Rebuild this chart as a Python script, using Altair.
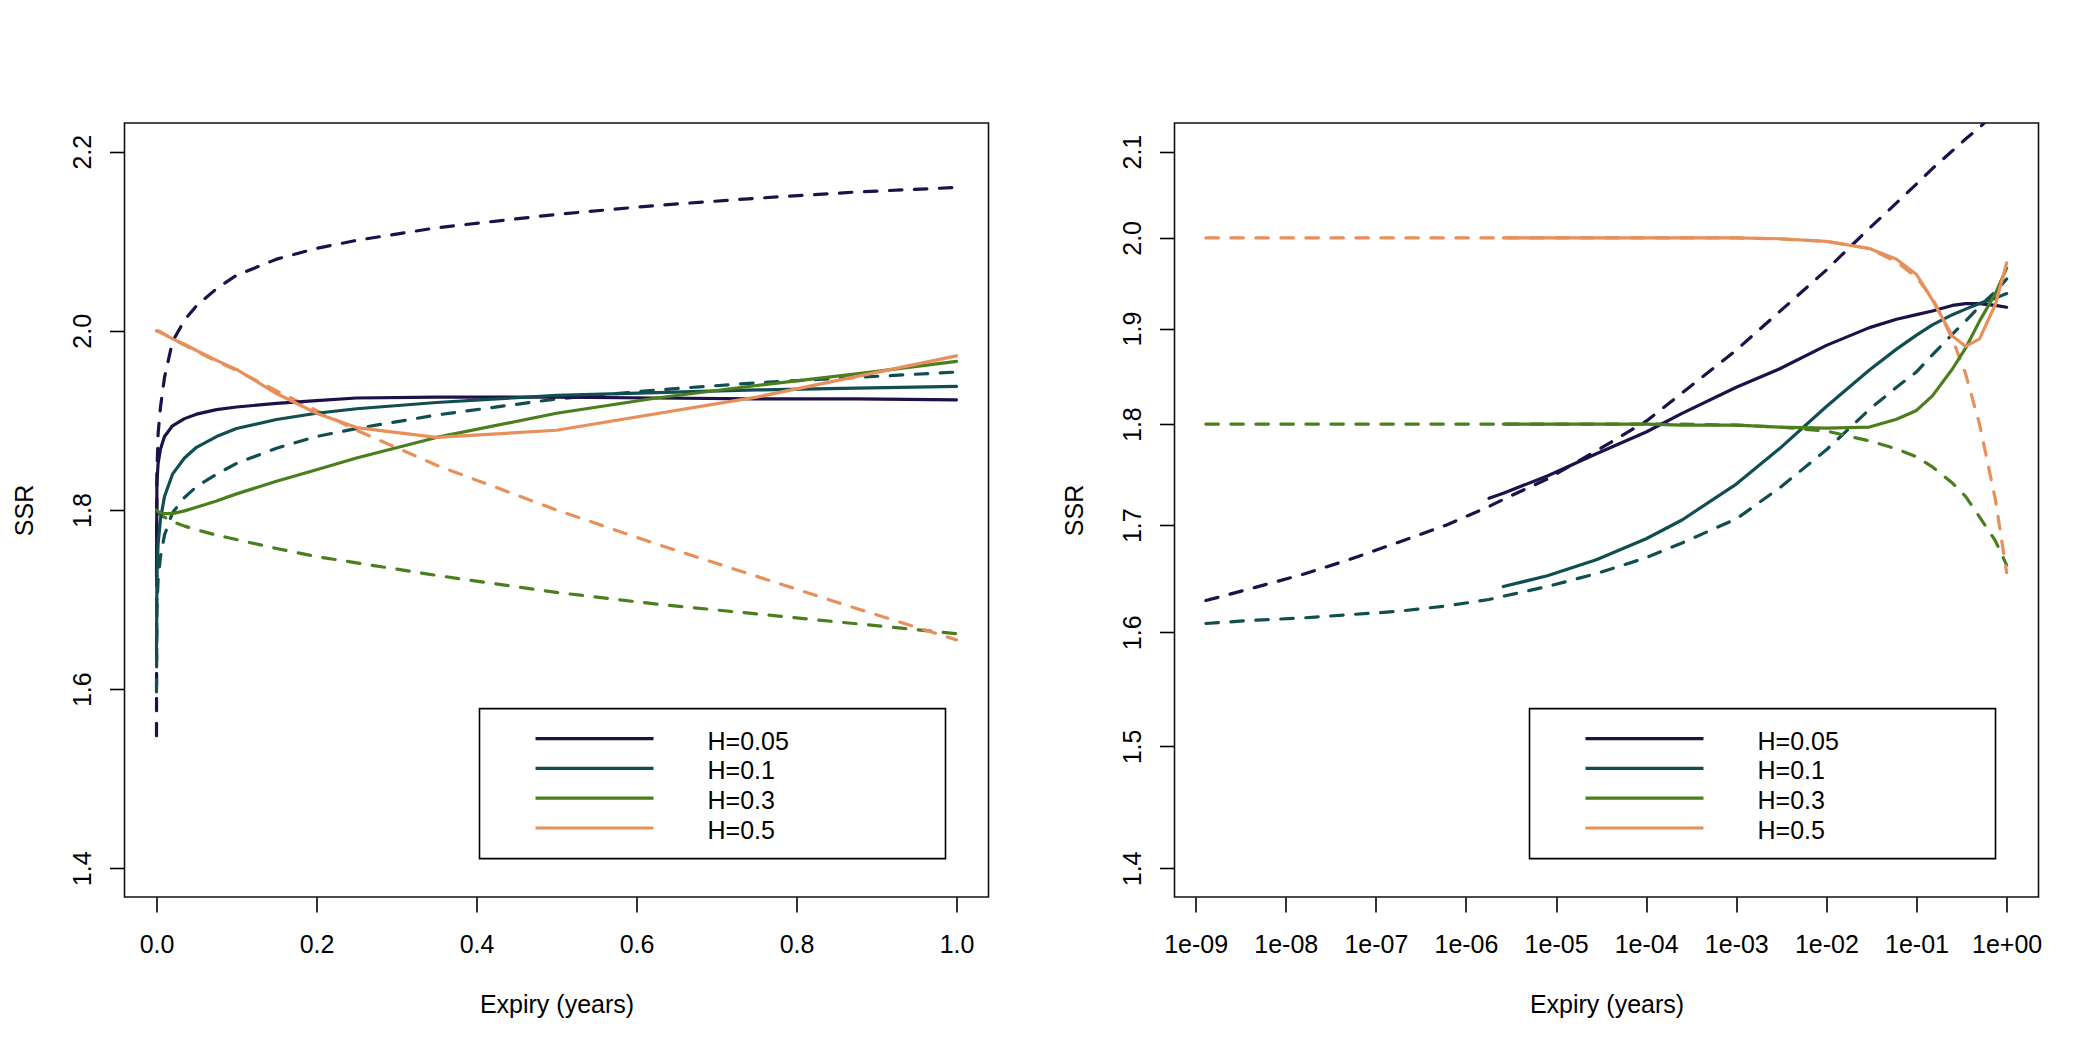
import altair as alt
import pandas as pd

FONT = "Liberation Sans"

H_LABELS = ["H=0.05", "H=0.1", "H=0.3", "H=0.5"]
COLORS = ["#1e1049", "#114e50", "#4b7e1d", "#e8905c"]

# ---------------- left panel (linear expiry) ----------------
L_T = [0, 0.0005, 0.002, 0.005, 0.01, 0.02, 0.035, 0.05, 0.075, 0.1, 0.15, 0.2,
       0.25, 0.35, 0.5, 0.625, 0.75, 0.875, 1.0]

L_SOLID_005 = [1.726, 1.830, 1.852, 1.868, 1.882, 1.894, 1.902, 1.907, 1.912, 1.915, 1.919, 1.922,
               1.925, 1.926, 1.926, 1.925, 1.924, 1.924, 1.923]
L_SOLID_01 = [1.642, 1.728, 1.762, 1.790, 1.815, 1.840, 1.858, 1.870, 1.882, 1.891, 1.901, 1.908,
              1.913, 1.920, 1.928, 1.931, 1.934, 1.936, 1.938]
L_SOLID_03 = [1.800, 1.800, 1.798, 1.797, 1.796, 1.796, 1.799, 1.803, 1.810, 1.818, 1.832, 1.845,
              1.858, 1.881, 1.908, 1.925, 1.939, 1.952, 1.966]
L_SOLID_05 = [2.000, 2.000, 1.999, 1.998, 1.996, 1.991, 1.985, 1.978, 1.967, 1.957, 1.930, 1.908,
              1.892, 1.881, 1.889, None, 1.926, None, 1.972]

L_DASH_005 = [1.548, 1.840, 1.885, 1.915, 1.948, 1.988, 2.012, 2.028, 2.047, 2.062, 2.080, 2.092,
              2.101, 2.115, 2.130, 2.140, 2.148, 2.155, 2.160]
L_DASH_01 = [1.597, 1.690, 1.722, 1.748, 1.772, 1.797, 1.814, 1.826, 1.840, 1.852, 1.869, 1.882,
             1.891, 1.906, 1.924, 1.934, 1.942, 1.948, 1.954]
L_DASH_03 = [1.800, 1.799, 1.797, 1.794, 1.792, 1.787, 1.782, 1.778, 1.772, 1.767, 1.757, 1.748,
             1.741, 1.727, 1.708, 1.695, 1.684, 1.673, 1.662]
L_DASH_05 = [2.000, 2.000, 2.000, 1.999, 1.996, 1.991, 1.984, 1.977, 1.966, 1.956, 1.933, 1.911,
             1.889, 1.850, 1.800, 1.762, 1.726, 1.690, 1.655]

L_X_TICKS = [0.0, 0.2, 0.4, 0.6, 0.8, 1.0]
L_Y_TICKS = [1.4, 1.6, 1.8, 2.0, 2.2]

# ---------------- right panel (log expiry, log SSR) ----------------
R_T = [1.3e-9, 4.5e-9, 1.5e-8, 5e-8, 1.7e-7, 6e-7, 1.8e-6, 2.6e-6, 8e-6, 2.8e-5, 1e-4, 2.5e-4,
       1e-3, 3e-3, 1e-2, 3e-2, 0.06, 0.1, 0.15, 0.25, 0.35, 0.5, 0.75, 1.0]

R_SOLID_005 = [None, None, None, None, None, None, 1.726, 1.731, 1.748, 1.770, 1.792, 1.811,
               1.838, 1.857, 1.882, 1.901, 1.910, 1.915, 1.919, 1.925, 1.927, 1.927, 1.925, 1.923]
R_SOLID_01 = [None, None, None, None, None, None, None, 1.642, 1.652, 1.667, 1.687, 1.705,
              1.740, 1.775, 1.818, 1.856, 1.878, 1.893, 1.904, 1.915, 1.921, 1.927, 1.933, 1.938]
R_SOLID_03 = [None, None, None, None, None, None, None, 1.800, 1.800, 1.800, 1.800, 1.799,
              1.799, 1.797, 1.796, 1.797, 1.805, 1.814, 1.829, 1.857, 1.879, 1.908, 1.938, 1.966]
R_SOLID_05 = [None, None, None, None, None, None, None, 2.000, 2.000, 2.000, 2.000, 2.000,
              2.000, 1.999, 1.996, 1.988, 1.976, 1.959, 1.931, 1.892, 1.881, 1.889, 1.926, 1.972]

R_DASH_005 = [1.629, 1.641, 1.653, 1.667, 1.683, 1.700, 1.718, 1.725, 1.745, 1.773, 1.803, 1.832,
              1.877, 1.918, 1.964, 2.011, 2.040, 2.062, 2.080, 2.101, 2.115, 2.129, 2.147, 2.160]
R_DASH_01 = [1.608, 1.611, 1.613, 1.616, 1.619, 1.624, 1.630, 1.633, 1.642, 1.654, 1.669, 1.683,
             1.706, 1.736, 1.774, 1.815, 1.838, 1.854, 1.872, 1.894, 1.908, 1.924, 1.940, 1.954]
R_DASH_03 = [1.800, 1.800, 1.800, 1.800, 1.800, 1.800, 1.800, 1.800, 1.800, 1.800, 1.800, 1.800,
             1.799, 1.797, 1.793, 1.783, 1.775, 1.767, 1.757, 1.741, 1.728, 1.708, 1.685, 1.662]
R_DASH_05 = [2.000, 2.000, 2.000, 2.000, 2.000, 2.000, 2.000, 2.000, 2.000, 2.000, 2.000, 2.000,
             2.000, 1.999, 1.996, 1.988, 1.973, 1.956, 1.933, 1.889, 1.852, 1.800, 1.725, 1.655]

R_X_TICKS = [1e-9, 1e-8, 1e-7, 1e-6, 1e-5, 1e-4, 1e-3, 1e-2, 1e-1, 1.0]
R_X_LABELS = ["1e-09", "1e-08", "1e-07", "1e-06", "1e-05", "1e-04", "1e-03", "1e-02", "1e-01", "1e+00"]
R_Y_TICKS = [1.4, 1.5, 1.6, 1.7, 1.8, 1.9, 2.0, 2.1]

W, H = 864, 774
LW = 3.2


def build(T, solid, dashed):
    rows = []
    for kind, group in (("dashed", dashed), ("solid", solid)):
        for lab, vals in zip(H_LABELS, group):
            for t, v in zip(T, vals):
                if v is not None:
                    rows.append({"T": t, "SSR": v, "H": lab, "kind": kind})
    return pd.DataFrame(rows)


AX = dict(grid=False, domain=False, ticks=True, tickSize=15, tickWidth=1.6, tickColor="black",
          labelFontSize=25, labelFont=FONT, labelColor="black", labelOverlap=False, labelFlush=False,
          titleFontSize=25, titleFont=FONT, titleColor="black", titleFontWeight="normal")


def x_axis(values, **kw):
    return alt.Axis(values=values, title="Expiry (years)", labelPadding=40, labelAlign="center",
                    labelBaseline="alphabetic", titleY=115, titleBaseline="alphabetic", **AX, **kw)


def y_axis(values):
    return alt.Axis(values=values, format=".1f", title="SSR", labelAngle=270, labelAlign="center",
                    labelBaseline="alphabetic", labelPadding=19.5, titleAngle=270, titleX=-100.5,
                    titleY=H / 2, titleAlign="center", titleBaseline="middle", **AX)


color = alt.Color("H:N", scale=alt.Scale(domain=H_LABELS, range=COLORS), legend=None)


def legend_layers():
    layers = [alt.Chart(pd.DataFrame({"box": [0]})).mark_rect(
        fill="white", stroke="black", strokeWidth=1.6).encode(
        x=alt.value(355), x2=alt.value(821), y=alt.value(585.6), y2=alt.value(735.6))]
    for i, (lab, col) in enumerate(zip(H_LABELS, COLORS)):
        yy = 615.6 + 29.8 * i
        df = pd.DataFrame({"H": [lab]})
        layers.append(alt.Chart(df).mark_rule(strokeWidth=LW, color=col).encode(
            x=alt.value(411), x2=alt.value(529), y=alt.value(yy)))
        layers.append(alt.Chart(df).mark_text(align="left", baseline="middle", fontSize=25,
                                              font=FONT, color="black").encode(
            x=alt.value(583), y=alt.value(yy + 3), text="H:N"))
    return layers


def panel(df, xscale, yscale, xaxis, yaxis):
    base = alt.Chart(df)
    enc = dict(x=alt.X("T:Q", scale=xscale, axis=xaxis),
               y=alt.Y("SSR:Q", scale=yscale, axis=yaxis),
               color=color)
    dashed = base.transform_filter(alt.datum.kind == "dashed").mark_line(
        strokeWidth=LW, strokeDash=[12.5, 12.5], strokeCap="round", strokeJoin="round",
        clip=True).encode(**enc)
    solid = base.transform_filter(alt.datum.kind == "solid").mark_line(
        strokeWidth=LW, strokeCap="round", strokeJoin="round", clip=True).encode(**enc)
    return alt.layer(dashed, solid, *legend_layers()).properties(width=W, height=H)


left_df = build(L_T, [L_SOLID_005, L_SOLID_01, L_SOLID_03, L_SOLID_05],
                [L_DASH_005, L_DASH_01, L_DASH_03, L_DASH_05])
right_df = build(R_T, [R_SOLID_005, R_SOLID_01, R_SOLID_03, R_SOLID_05],
                 [R_DASH_005, R_DASH_01, R_DASH_03, R_DASH_05])

left = panel(left_df,
             alt.Scale(domain=[-0.04, 1.04], nice=False, zero=False),
             alt.Scale(domain=[1.368, 2.232], nice=False, zero=False),
             x_axis(L_X_TICKS, format=".1f"),
             y_axis(L_Y_TICKS))

label_expr = "[" + ",".join("'%s'" % s for s in R_X_LABELS) + "][round(log(datum.value)/LN10) + 9]"
right = panel(right_df,
              alt.Scale(type="log", domain=[5.83e-10, 2.257], nice=False),
              alt.Scale(type="log", domain=[1.3775, 2.1343], nice=False),
              x_axis(R_X_TICKS, labelExpr=label_expr),
              y_axis(R_Y_TICKS))

chart = alt.hconcat(left, right, spacing=186, bounds="flush").properties(
    padding={"left": 2.5, "top": 114, "right": 10, "bottom": 10}
).configure(background="white").configure_view(stroke="#111111", strokeWidth=1.6)

chart.save("out.html", embed_options={"renderer": "svg", "actions": False})
